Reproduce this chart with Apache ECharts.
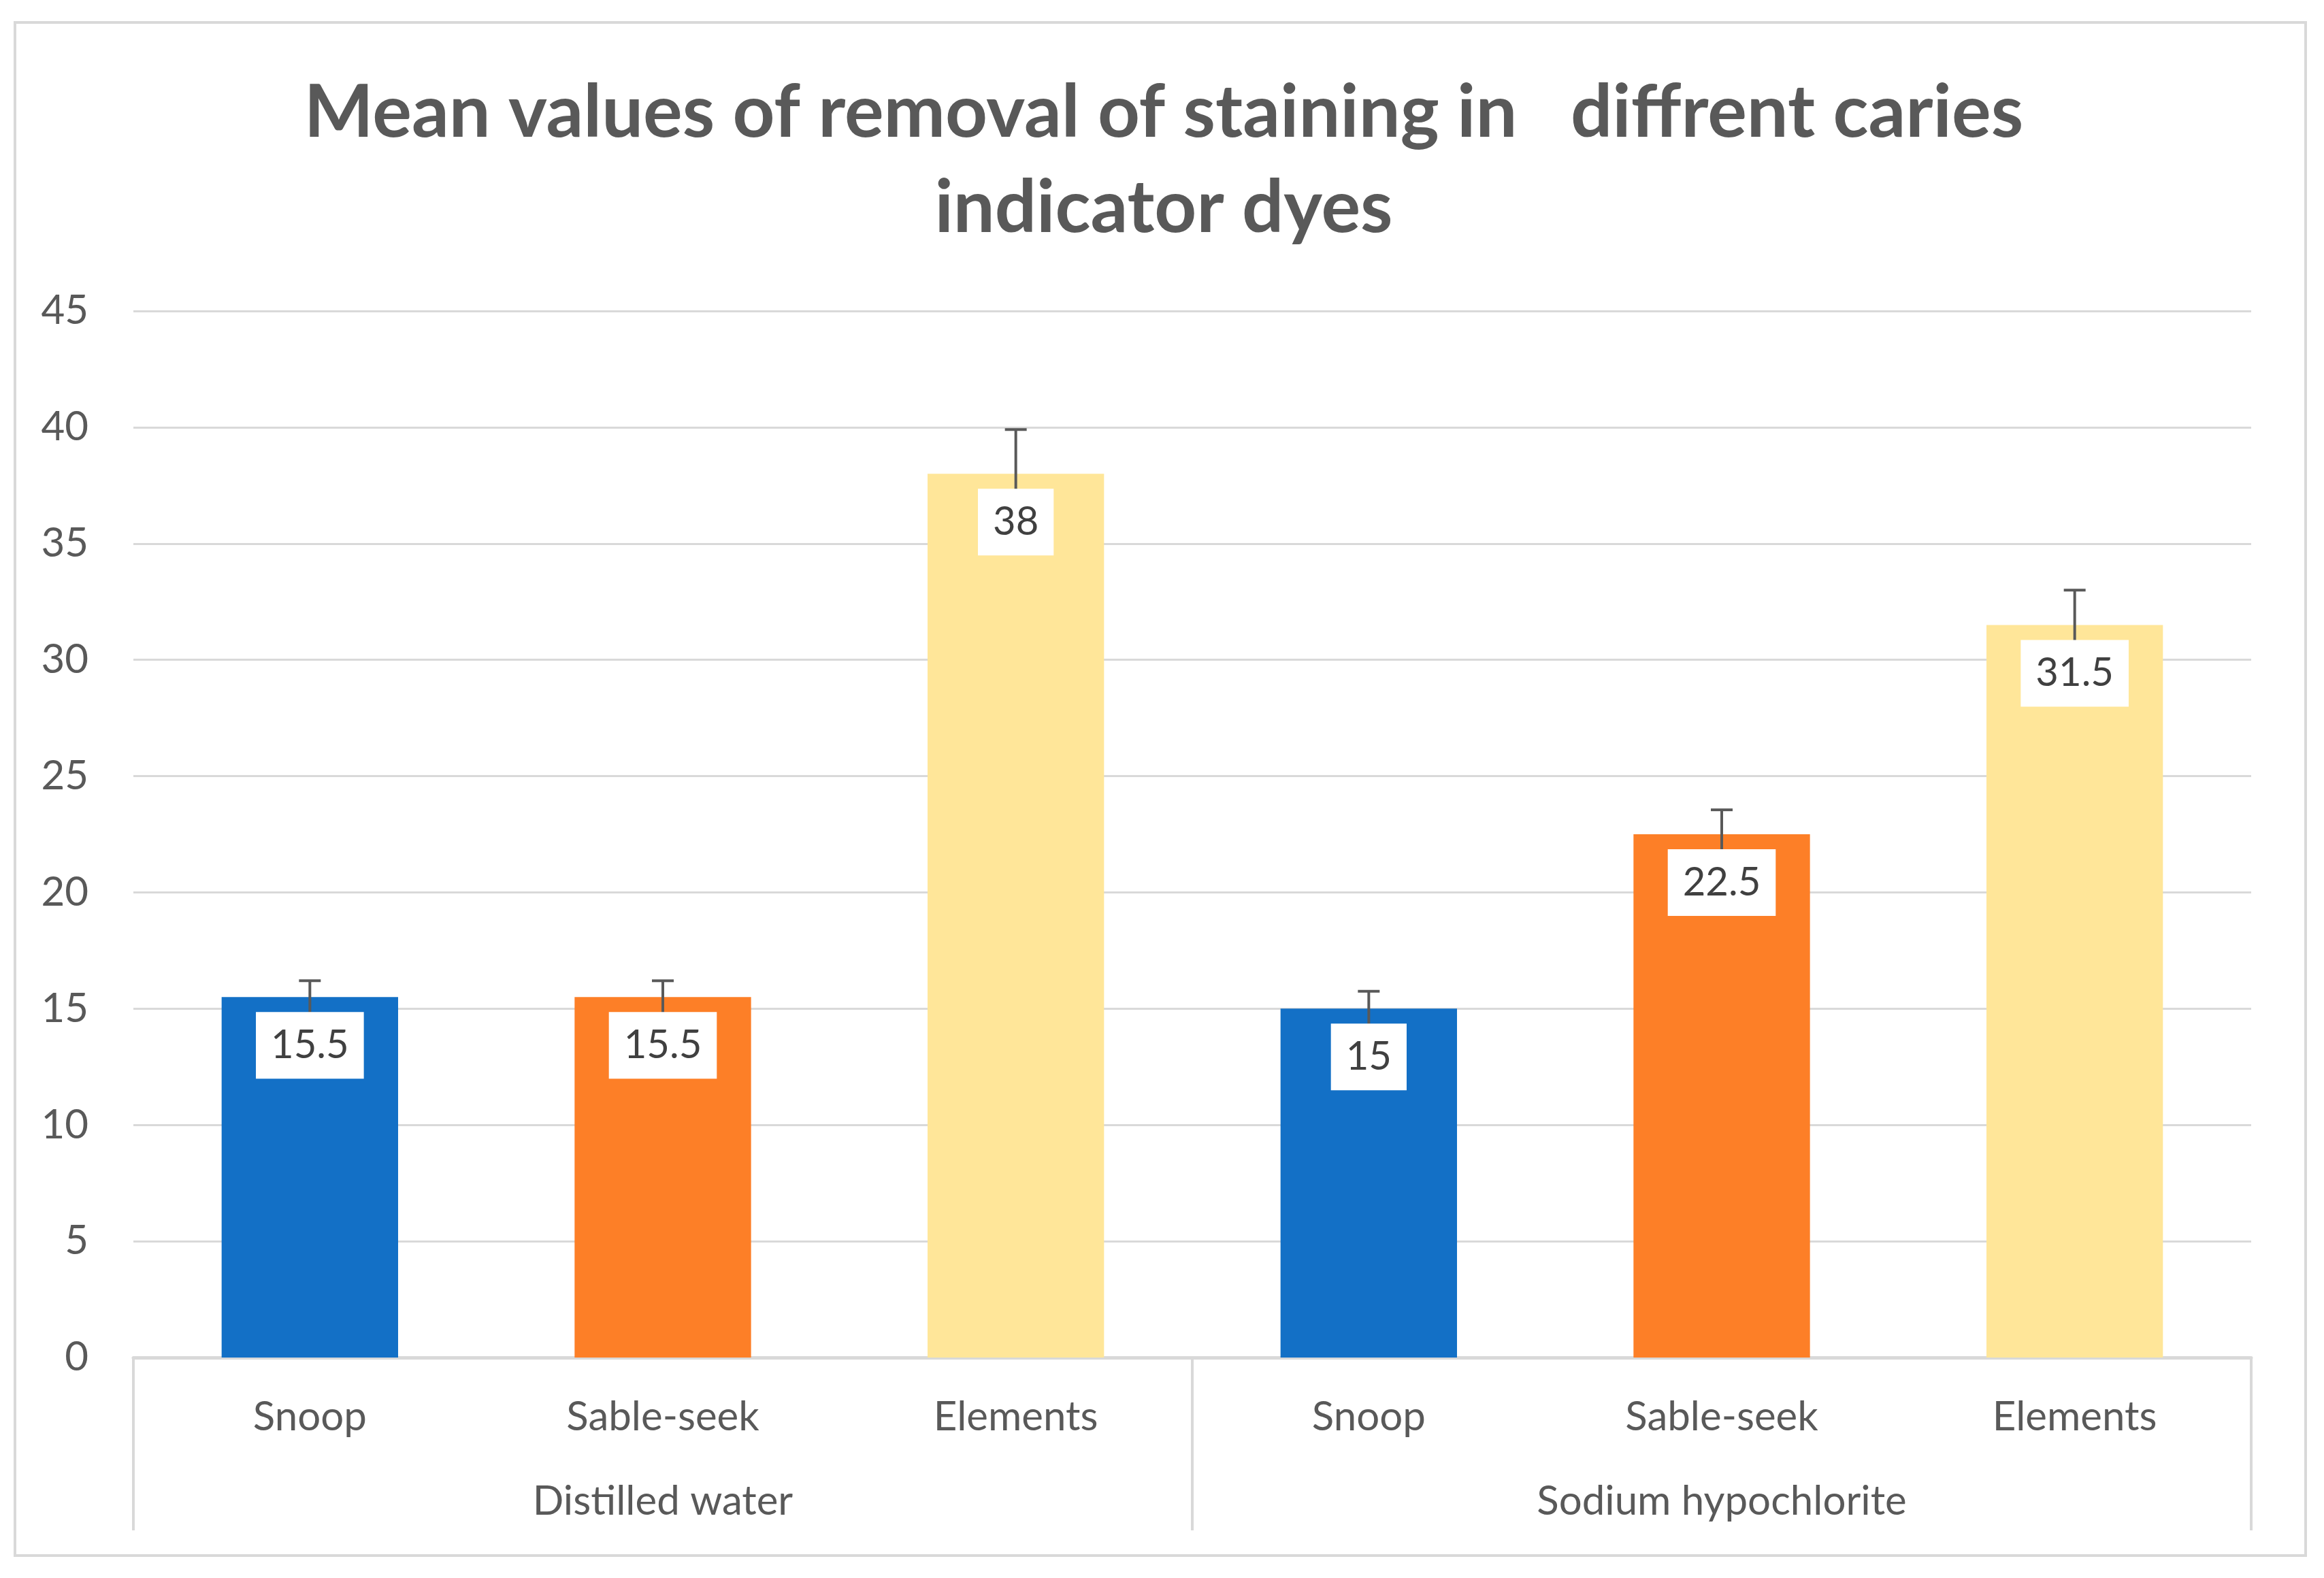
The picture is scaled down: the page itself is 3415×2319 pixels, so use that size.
<!DOCTYPE html>
<html>
<head>
<meta charset="utf-8">
<script src="https://cdn.jsdelivr.net/npm/echarts@6/dist/echarts.min.js"></script>
<style>
html,body{margin:0;padding:0;background:#fff;}
#chart{width:3415px;height:2319px;}
</style>
</head>
<body>
<div id="chart"></div>
<script>
const titleText = 'Mean values of removal of staining in   diffrent caries\nindicator dyes';
const groups = ['Distilled water', 'Sodium hypochlorite'];
const dyes = ['Snoop', 'Sable-seek', 'Elements'];
const distilledWater = [15.5, 15.5, 38];
const sodiumHypochlorite = [15, 22.5, 31.5];
const distilledWaterErr = [0.7, 0.7, 1.9];
const sodiumHypochloriteErr = [0.75, 1.05, 1.5];
const yMin = 0, yMax = 45, yStep = 5;

const dyeColors = ['#1370C6', '#FD7F27', '#FFE699'];
const FONT = 'Lato, "Open Sans", sans-serif';

const categories = [];
const values = [];
const errs = [];
[[distilledWater, distilledWaterErr], [sodiumHypochlorite, sodiumHypochloriteErr]].forEach(function (g) {
  dyes.forEach(function (d, i) {
    categories.push(d);
    values.push(g[0][i]);
    errs.push(g[1][i]);
  });
});

const barData = values.map(function (v, i) {
  return { value: v, itemStyle: { color: dyeColors[i % dyes.length] } };
});
const errData = values.map(function (v, i) { return [i, v, errs[i]]; });

const chart = echarts.init(document.getElementById('chart'), null, { renderer: 'canvas' });
chart.setOption({
  backgroundColor: '#ffffff',
  animation: false,
  title: {
    text: titleText,
    left: 1705,
    textAlign: 'center',
    top: 91,
    textStyle: {
      fontFamily: FONT,
      fontWeight: 'bold',
      fontSize: 108,
      lineHeight: 140,
      color: '#595959'
    }
  },
  graphic: [{
    type: 'rect',
    shape: { x: 22, y: 33, width: 3366, height: 2253 },
    style: { fill: 'none', stroke: '#D9D9D9', lineWidth: 4 },
    silent: true
  }],
  grid: { left: 196, right: 107, top: 457, bottom: 324, containLabel: false },
  xAxis: [{
    type: 'category',
    data: categories,
    position: 'bottom',
    axisLine: { show: true, lineStyle: { color: '#D9D9D9', width: 5 } },
    axisTick: { show: false },
    axisLabel: {
      interval: 0,
      margin: 58,
      fontFamily: FONT,
      fontSize: 60,
      color: '#595959'
    }
  }, {
    type: 'category',
    data: groups,
    position: 'bottom',
    axisLine: { show: false },
    axisTick: { show: true, interval: 0, length: 254, lineStyle: { color: '#D9D9D9', width: 4 } },
    axisLabel: {
      interval: 0,
      margin: 182,
      fontFamily: FONT,
      fontSize: 60,
      color: '#595959'
    },
    splitLine: { show: false }
  }],
  yAxis: {
    type: 'value',
    min: yMin,
    max: yMax,
    interval: yStep,
    axisLine: { show: false },
    axisTick: { show: false },
    axisLabel: { margin: 66, fontFamily: FONT, fontSize: 60, color: '#595959' },
    splitLine: { lineStyle: { color: '#D9D9D9', width: 3 } }
  },
  series: [{
    type: 'bar',
    xAxisIndex: 0,
    data: barData,
    barWidth: '50%',
    z: 2
  }, {
    type: 'custom',
    xAxisIndex: 0,
    data: errData,
    z: 5,
    renderItem: function (params, api) {
      const idx = api.value(0);
      const v = api.value(1);
      const e = api.value(2);
      const top = api.coord([idx, v]);
      const hi = api.coord([idx, v + e]);
      const lo = api.coord([idx, v - e]);
      return {
        type: 'group',
        children: [{
          type: 'line',
          shape: { x1: hi[0], y1: hi[1], x2: lo[0], y2: lo[1] },
          style: { stroke: '#595959', lineWidth: 4 }
        }, {
          type: 'line',
          shape: { x1: hi[0] - 16, y1: hi[1], x2: hi[0] + 16, y2: hi[1] },
          style: { stroke: '#595959', lineWidth: 4 }
        }, {
          type: 'text',
          x: top[0],
          y: top[1] + 22,
          style: {
            text: String(v),
            fill: '#404040',
            font: '58px ' + FONT,
            align: 'center',
            verticalAlign: 'top',
            backgroundColor: '#ffffff',
            padding: [20, 22, 20, 22],
            lineHeight: 58
          }
        }]
      };
    }
  }]
});
</script>
</body>
</html>
